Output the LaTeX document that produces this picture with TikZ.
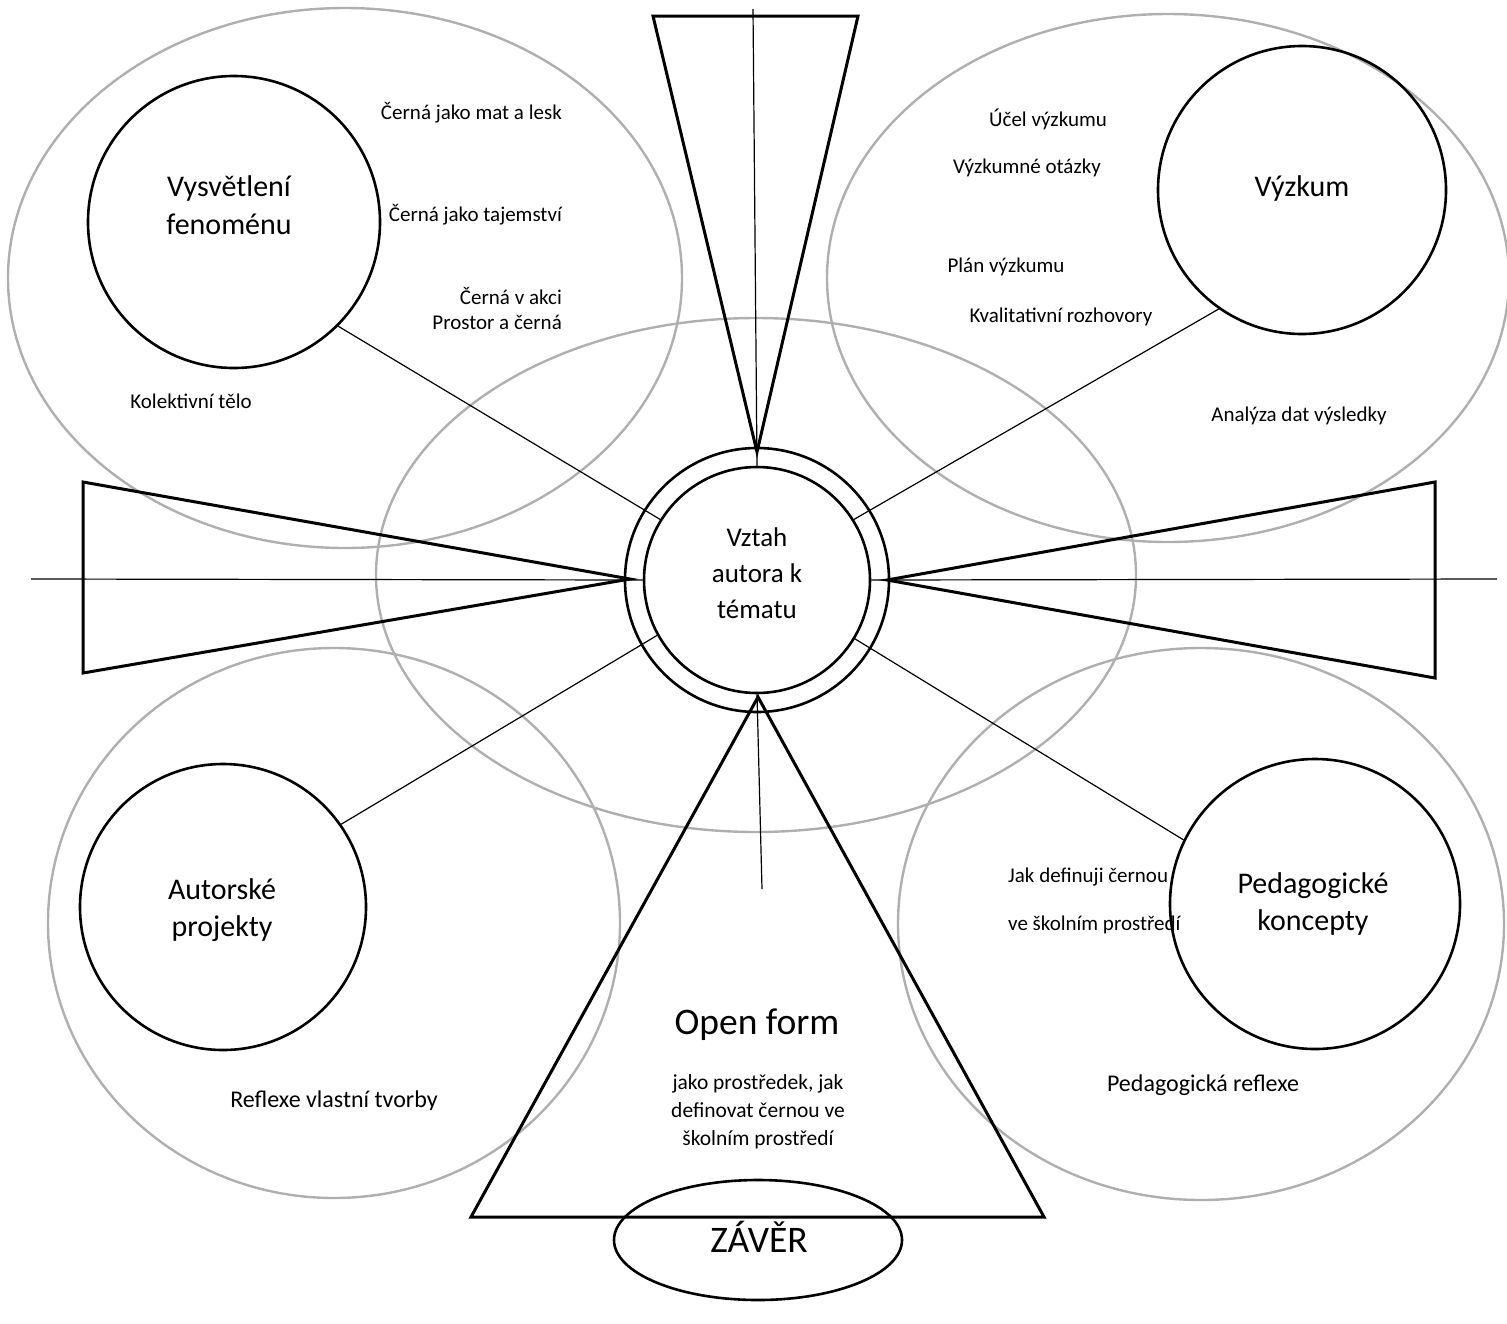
\documentclass[tikz,border=0pt]{standalone}
\usepackage{fontspec}
\setmainfont{Carlito}
\usetikzlibrary{shapes.geometric}
\definecolor{ellgray}{RGB}{175,175,175}
\begin{document}
\begin{tikzpicture}[x=1pt,y=-1pt,
  grayell/.style={draw=ellgray,line width=2.4pt,ellipse,inner sep=0pt},
  bigcirc/.style={draw=black,line width=2.6pt,circle,inner sep=0pt},
  wedge/.style={draw=black,line width=3pt,line join=miter},
  thin/.style={draw=black,line width=1.2pt},
  small/.style={font=\fontsize{21}{26}\selectfont,inner sep=0pt},
  medium/.style={font=\fontsize{24}{28}\selectfont,inner sep=0pt},
  big/.style={font=\fontsize{30}{37.5}\selectfont,align=center,inner sep=0pt},
]
\useasboundingbox (0,0) rectangle (1507,1323);
% gray ellipses
\node[grayell,minimum width=674pt,minimum height=540pt] (e1) at (345,278) {};
\node[grayell,minimum width=682pt,minimum height=528pt] (e2) at (1168,278) {};
\node[grayell,minimum width=760pt,minimum height=514pt] (e3) at (756,575) {};
\node[grayell,minimum width=572pt,minimum height=550pt] (e4) at (334,923) {};
\node[grayell,minimum width=606pt,minimum height=552pt] (e5) at (1201,924) {};
% central circles
\node[bigcirc,minimum size=264pt] (outer) at (757,580) {};
\node[bigcirc,minimum size=226pt] (inner) at (757,580) {};
% big circles
\node[bigcirc,minimum size=292pt] (vys) at (234,222) {};
\node[bigcirc,minimum size=288pt] (vyz) at (1302,190) {};
\node[bigcirc,minimum size=286pt] (aut) at (223,907) {};
\node[bigcirc,minimum size=290pt] (ped) at (1315,904) {};
% wedges
\draw[wedge] (653,16) -- (858,16) -- (757,452) -- cycle;
\draw[wedge] (83,482) -- (630,579) -- (83,673) -- cycle;
\draw[wedge] (1435,482) -- (887,580) -- (1435,678) -- cycle;
\draw[wedge] (471,1217) -- (1044,1217) -- (758,697) -- cycle;
% axis lines
\coordinate (topend) at (753,9);
\coordinate (leftend) at (31,579);
\coordinate (rightend) at (1497,579);
\coordinate (botend) at (762,889);
\draw[thin] (topend) -- (inner.north);
\draw[thin] (leftend) -- (inner.west);
\draw[thin] (inner.east) -- (rightend);
\draw[thin] (inner.south) -- (botend);
% spokes
\draw[thin] (vys.-45) -- (inner.148);
\draw[thin] (vyz.-125) -- (inner.32);
\draw[thin] (aut.35) -- (inner.209);
\draw[thin] (ped.154) -- (inner.-31);
% conclusion ellipse
\node[draw=black,line width=2.6pt,ellipse,inner sep=0pt,minimum width=288pt,minimum height=120pt] (zav) at (758,1240) {};
\node[font=\fontsize{37.5}{40}\selectfont,inner sep=0pt] (zavt) at (759,1237) {ZÁVĚR};
% labels
\node[big] (tvys) at (229,205) {Vysvětlení\\fenoménu};
\node[big] (tvyz) at (1302,188) {Výzkum};
\node[big] (taut) at (222,910) {Autorské\\projekty};
\node[big] (tped) at (1313,904) {Pedagogické\\koncepty};
\node[font=\fontsize{27}{36}\selectfont,align=center,inner sep=0pt] (tcen) at (757,573) {Vztah\\autora k\\tématu};
\node[font=\fontsize{37.5}{40}\selectfont,inner sep=0pt] (topen) at (757,1025) {Open form};
\node[font=\fontsize{21.5}{28}\selectfont,align=center,inner sep=0pt] (topen2) at (758,1112) {jako prostředek, jak\\definovat černou ve\\školním prostředí};
% small texts
\node[small,anchor=east] (s1) at (562,113) {Černá jako mat a lesk};
\node[small,anchor=east] (s2) at (562,215) {Černá jako tajemství};
\node[small,anchor=east] (s3) at (562,296) {Černá v akci};
\node[small,anchor=east] (s4) at (562,322) {Prostor a černá};
\node[small] (s5) at (191,401) {Kolektivní tělo};
\node[small] (s6) at (1048,119) {Účel výzkumu};
\node[small] (s7) at (1027,168) {Výzkumné otázky};
\node[small] (s8) at (1006,267) {Plán výzkumu};
\node[small] (s9) at (1061,317) {Kvalitativní rozhovory};
\node[small] (s10) at (1299,416) {Analýza dat výsledky};
\node[small,anchor=west] (s11) at (1008,877) {Jak definuji černou};
\node[small,anchor=west] (s12) at (1008,925) {ve školním prostředí};
\node[medium] (s13) at (1203,1085) {Pedagogická reflexe};
\begin{scope}
\clip (200,1080) rectangle (460,1109);
\node[medium] (s14) at (334,1101) {Reflexe vlastní tvorby};
\end{scope}
\end{tikzpicture}
\end{document}
